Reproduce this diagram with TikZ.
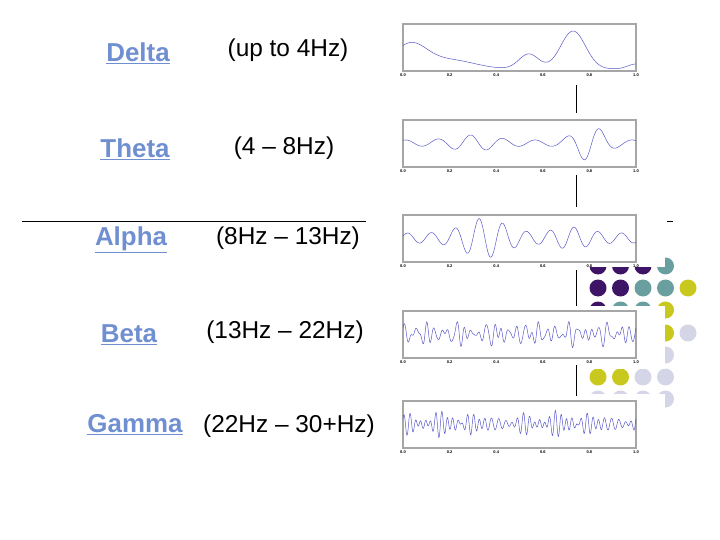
\documentclass[tikz,border=0pt]{standalone}
\usepackage{fontspec}
\setmainfont{Liberation Sans}
\definecolor{lbl}{HTML}{6F8FD0}
\definecolor{dP}{HTML}{3D1466}
\definecolor{dT}{HTML}{6A9FA0}
\definecolor{dY}{HTML}{C8C81E}
\definecolor{dL}{HTML}{D5D5E8}
\definecolor{wave}{HTML}{5A5AC8}
\begin{document}
\begin{tikzpicture}[x=1bp,y=-1bp,
  lab/.style={font=\fontsize{26}{30}\selectfont\bfseries,text=lbl},
  rng/.style={font=\fontsize{24.5}{28}\selectfont},
  frame/.style={draw=gray!70,line width=1.2bp,fill=white},
  wv/.style={draw=wave,line width=0.5bp},
  tk/.style={font=\fontsize{4}{5}\bfseries,inner sep=0},
  vl/.style={line width=1bp}]
\useasboundingbox (0,0) rectangle (720,540);
% dots
\newcommand\dotrow[2]{\foreach \c [count=\j from 0] in {#2}{\path[fill=\c] ({598+22.5*\j},#1) circle (8.5);}}
\dotrow{266}{dP,dP,dP,dT,none}
\dotrow{288}{dP,dP,dT,dT,dY}
\dotrow{310}{dP,dT,dT,dY,none}
\dotrow{333}{dP,dT,dY,dY,dL}
\dotrow{355}{dT,dY,dL,dL,none}
\dotrow{377}{dY,dY,dL,dL,none}
\dotrow{399}{dL,dL,dL,dL,none}
\fill[white] (560,180) rectangle (665,267);
\fill[white] (560,306) rectangle (665,369);
\fill[white] (560,394) rectangle (665,460);
% lines
\draw[vl] (576,85) -- (576,113);
\draw[vl] (576,175) -- (576,207);
\draw[vl] (576,270) -- (576,306);
\draw[vl] (576,365) -- (576,396);
\draw[line width=0.8bp] (22,221) -- (366,221);
\draw[line width=0.8bp] (667,221) -- (673,221);
% labels
\node[lab] (d) at (138,53) {\underline{Delta}};
\node[lab] (t) at (135,149) {\underline{Theta}};
\node[lab] (a) at (131,240) {\underline{Alpha}};
\node[lab] (b) at (129,335) {\underline{Beta}};
\node[lab] (g) at (135,425) {\underline{Gamma}};
\node[rng] (rd) at (288,50) {(up to 4Hz)};
\node[rng] (rt) at (284,148) {(4 – 8Hz)};
\node[rng] (ra) at (288,238) {(8Hz – 13Hz)};
\node[rng] (rb) at (285,332) {(13Hz – 22Hz)};
\node[rng] (rg) at (289,426) {(22Hz – 30+Hz)};
% plots
\foreach \top/\n in {24/1,120/2,215/3,311/4,401/5}{
  \draw[frame] (403,\top) rectangle (636,\top+47);
  \foreach \v [count=\k from 0] in {0.0,0.2,0.4,0.6,0.8,1.0}
    \node[tk] at ({403+46.6*\k},\top+51) {\v};
}
\draw[wv] plot[domain=0:1,samples=200] ({403+233*\x},{69-38*exp(-((\x-0.73)/0.075)^2)-15*exp(-((\x-0.54)/0.06)^2)-24*exp(-((\x-0.03)/0.1)^2)-9*exp(-((\x-0.2)/0.15)^2)-5*exp(-((\x-1.0)/0.05)^2)});
\draw[wv] plot[domain=0:1,samples=250] ({403+233*\x},{143-(3+5*exp(-((\x-0.3)/0.12)^2)+15*exp(-((\x-0.8)/0.08)^2))*sin(360*7.2*\x+60)});
\draw[wv] plot[domain=0:1,samples=300] ({403+233*\x},{238-(5+15*exp(-((\x-0.35)/0.12)^2)+6*exp(-((\x-0.72)/0.1)^2))*sin(360*9.8*\x+20)});
\draw[wv] plot[domain=0:360,samples=500] ({403+\x*0.64722},{334-4*sin(23*\x)-5*sin(31*\x+40)-3*sin(17*\x+100)-4*sin(41*\x+10)*sin(3*\x)});
\draw[wv] plot[domain=0:360,samples=600] ({403+\x*0.64722},{424-4*sin(37*\x)-4*sin(43*\x+40)-3*sin(29*\x+100)-5*sin(41*\x+10)*sin(4*\x)});
\end{tikzpicture}
\end{document}
